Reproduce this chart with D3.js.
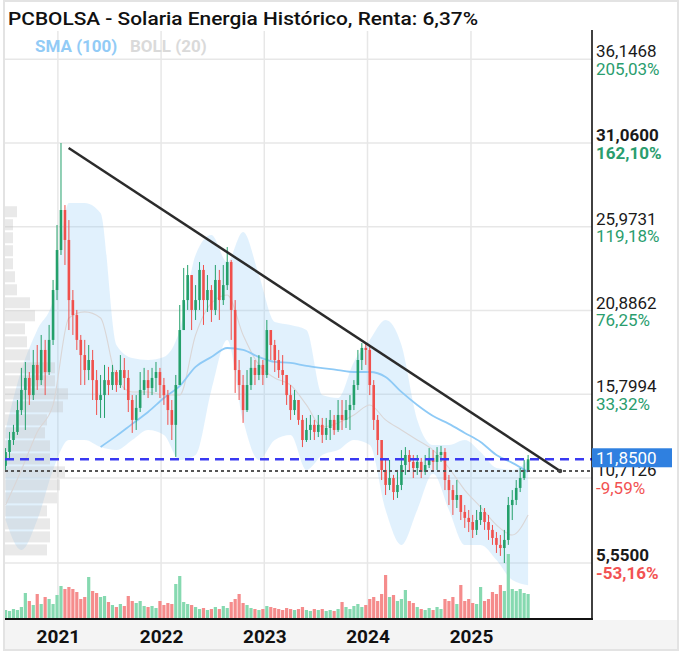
<!DOCTYPE html>
<html><head><meta charset="utf-8">
<script src="https://cdn.jsdelivr.net/npm/d3@7/dist/d3.min.js"></script>
<style>body{margin:0;background:#fff;} svg{display:block;font-family:Roboto, "Noto Sans", sans-serif;}</style>
</head><body><svg id="c" width="683" height="655"></svg>
<script>
// ---------------- DATA ----------------
const titleText = "PCBOLSA - Solaria Energia Histórico, Renta: 6,37%";
const legendItems = ["SMA (100)", "BOLL (20)"];
const candleStart = "2020-06-30";
const candleStepDays = 14;
const firstOpen = 11.45;
const closes = [12.29,13.02,13.51,14.84,16.06,16.79,15.75,17.58,16.66,18.49,
17.15,19.10,22.13,24.56,26.99,25.17,21.52,20.61,19.10,18.18,
17.27,17.88,16.66,15.45,15.75,16.66,16.36,17.15,16.36,17.27,
16.79,15.45,14.24,14.97,16.06,16.66,16.18,16.79,17.15,16.36,
15.75,14.84,13.94,16.36,19.70,21.52,23.04,20.92,21.52,23.35,
21.52,22.13,20.92,22.74,21.52,22.43,23.83,20.92,17.27,16.36,
14.84,16.36,17.40,16.97,17.58,16.97,19.70,18.79,17.88,17.27,
16.97,15.75,14.84,15.45,14.24,13.02,13.63,13.94,13.51,13.94,
13.33,13.75,14.24,13.63,14.54,14.24,14.84,15.15,16.36,17.88,
18.61,18.49,16.36,14.24,13.02,11.20,10.29,10.71,9.86,10.29,
11.50,12.11,11.69,11.32,11.69,11.08,11.50,11.93,11.69,12.11,
12.29,10.59,9.98,9.38,9.68,8.65,8.29,8.04,7.56,8.16,
8.65,8.04,7.56,7.07,6.65,6.46,6.95,9.07,9.38,10.11,
10.71,11.20,11.85];
const highs = [12.53,13.51,13.94,15.45,17.40,17.76,17.15,18.49,18.79,19.40,
19.10,20.01,22.74,26.08,31.06,27.29,26.38,22.13,20.92,19.40,
19.10,18.79,18.49,17.27,16.97,17.58,17.46,17.58,17.27,18.18,
18.00,17.27,15.75,15.75,17.15,17.40,17.27,17.40,17.76,17.40,
16.79,16.06,15.45,16.97,21.22,23.47,23.65,22.74,22.43,23.83,
23.65,23.04,22.43,23.65,23.35,23.65,24.74,23.95,21.52,17.88,
16.97,17.27,18.06,17.88,18.18,17.88,20.31,19.70,19.10,18.49,
18.18,16.97,16.36,16.06,15.45,14.54,14.36,14.54,14.24,14.54,
14.36,14.36,14.84,14.54,15.45,15.45,15.45,15.75,16.66,18.49,
18.91,18.91,18.79,16.66,14.54,13.02,11.81,11.81,10.90,11.20,
12.41,12.59,12.41,12.11,12.11,11.93,12.11,12.53,12.41,12.59,
12.66,12.53,10.90,10.29,10.59,9.68,9.07,8.77,8.47,8.77,
9.07,8.89,8.47,7.86,7.43,7.25,7.56,9.56,9.98,10.59,
11.32,11.81,12.11];
const lows = [11.20,11.93,12.72,13.33,14.54,13.63,15.15,15.45,16.06,16.36,
15.75,16.97,18.79,21.52,24.26,23.65,19.70,19.40,18.49,16.36,
16.36,16.66,15.45,14.54,14.36,14.36,15.75,16.06,15.94,16.18,
16.06,14.72,13.45,13.63,14.72,15.75,15.57,15.75,15.94,15.57,
15.15,13.94,13.02,11.99,16.36,19.70,20.92,19.70,20.31,20.92,
20.01,20.80,20.19,20.61,20.31,21.22,22.13,19.10,15.88,15.45,
14.06,14.72,16.06,16.36,16.66,16.36,16.79,17.88,17.15,16.79,
16.36,15.15,14.24,14.54,13.94,12.59,12.90,13.02,13.02,13.20,
12.84,13.02,13.02,13.33,13.51,13.63,13.75,13.63,14.84,16.06,
17.27,17.58,15.75,13.63,12.11,10.59,9.68,9.98,9.38,9.50,
9.98,10.90,11.08,10.71,10.90,10.71,10.90,11.32,11.20,11.20,
11.69,9.98,9.07,8.47,8.89,8.16,7.68,7.43,7.07,7.25,
7.86,7.56,6.95,6.65,6.16,5.98,5.55,6.65,8.16,9.07,
9.86,10.59,11.08];
const volumes = [9,8,10,9,12,26,18,14,25,15,
22,20,15,24,33,30,32,30,27,20,
22,42,28,26,22,23,17,14,12,15,
13,23,18,16,18,13,12,13,11,18,
14,16,15,35,43,17,15,14,12,10,
11,9,10,12,10,13,11,17,20,25,
16,14,11,10,9,10,13,12,11,10,
9,11,10,9,10,12,9,8,10,9,
10,8,9,8,10,17,12,10,13,15,
12,14,20,22,18,25,44,22,24,18,
20,29,18,16,12,10,9,11,9,12,
10,20,18,22,15,34,18,20,16,15,
32,18,20,27,25,34,28,65,30,28,
30,26,25];
// indicators, sampled every 4 candles
const indicatorStep = 4;
const bollUpper = [13.63,17.27,19.70,21.52,27.42,27.42,26.81,18.79,18.00,17.88,18.06,19.70,24.26,25.47,23.83,25.65,23.04,20.19,20.01,19.70,15.75,15.57,17.76,19.10,20.31,18.79,14.24,12.72,12.72,13.02,12.29,11.32,11.20,11.81];
const bollMid = [9.07,11.20,13.51,15.15,20.43,20.80,20.43,16.79,15.94,15.94,15.75,15.75,19.40,21.34,21.83,19.40,17.58,16.79,16.36,15.15,13.81,14.06,14.54,15.15,14.24,13.63,13.02,12.41,11.32,9.98,8.95,7.86,7.25,8.47];
const bollLower = [8.16,6.34,8.16,11.20,13.02,13.02,12.59,12.41,13.02,13.63,13.33,11.81,12.11,16.06,19.10,14.24,11.81,13.02,13.33,11.20,12.11,12.41,13.02,12.72,8.77,6.65,8.77,10.97,8.77,6.65,6.65,5.73,4.51,4.20];
const smaStartIndex = 24;
const sma100 = [12.60,13.27,14.00,14.72,15.57,16.30,17.46,18.06,18.61,18.49,18.06,17.76,17.70,17.52,17.39,17.27,17.15,17.15,16.85,15.94,15.15,14.48,14.00,13.45,12.90,12.11,11.63,11.08];
// volume profile (left), bins from bottom price upward
const profileLow = 5.95, profileStep = 0.79;
const profileVol = [42,45,45,42,52,55,60,45,45,40,42,58,63,50,50,25,22,20,30,25,12,10,8,8,8,8,12];
// axes
const yearTicks = ["2021-01-01","2022-01-01","2023-01-01","2024-01-01","2025-01-01"];
const priceTicks = [36.1468, 31.0600, 25.9731, 20.8862, 15.7994, 10.7126, 5.5500];
const pctLabels = ["205,03%","162,10%","119,18%","76,25%","33,32%","-9,59%","-53,16%"];
const maxPrice = 31.06, minPrice = 5.55;
const lastPrice = 11.85;
const yearOpenPrice = 11.14;
const trendLine = [["2021-02-08", 30.76], ["2025-11-12", 11.14]];

// ---------------- DRAW ----------------
const svg = d3.select("#c");
const W = 683, H = 655;
const L = 5, R = 592, T = 31, B = 619;
const parse = d3.utcParse("%Y-%m-%d");
const t0 = parse(candleStart);
const dateOf = i => d3.utcDay.offset(t0, i * candleStepDays);

const x = d3.scaleUtc().domain([parse("2020-06-28"), parse("2026-03-05")]).range([L, R]);
const y = d3.scaleLinear().domain([minPrice, maxPrice]).range([563, 143]);
const vy = d3.scaleLinear().domain([0, 70]).range([B, B - 70]);
const px = d3.scaleLinear().domain([0, 70]).range([0, 70]);

const candles = closes.map((c, i) => ({
  date: dateOf(i), open: i ? closes[i - 1] : firstOpen, close: c,
  high: highs[i], low: lows[i], vol: volumes[i]
}));
const bands = bollUpper.map((u, k) => ({date: dateOf(k * indicatorStep), u, m: bollMid[k], l: bollLower[k]}));
const smaPts = sma100.map((v, k) => ({date: dateOf(smaStartIndex + k * indicatorStep), v}));

// frame
svg.append("rect").attr("width", W).attr("height", H).attr("fill", "#fff");
svg.append("rect").attr("x", 4).attr("y", 620).attr("width", 674).attr("height", 30).attr("fill", "#f4f4f4");
svg.append("rect").attr("x", 4).attr("y", 1).attr("width", 674).attr("height", 649)
  .attr("fill", "none").attr("stroke", "#e3e3e3").attr("stroke-width", 2);

const plot = svg.append("g");
plot.append("clipPath").attr("id", "clip").append("rect")
  .attr("x", L).attr("y", T).attr("width", R - L).attr("height", B - T);

// grid
plot.append("g").selectAll("line").data(priceTicks).join("line")
  .attr("x1", L).attr("x2", R).attr("y1", d => y(d)).attr("y2", d => y(d))
  .attr("stroke", "#e7e7e7").attr("stroke-width", 1.5);
plot.append("g").selectAll("line").data(yearTicks.map(parse)).join("line")
  .attr("x1", d => x(d)).attr("x2", d => x(d)).attr("y1", T).attr("y2", B)
  .attr("stroke", "#e7e7e7").attr("stroke-width", 1.5);

const g = plot.append("g").attr("clip-path", "url(#clip)");

// bollinger band
g.append("path").datum(bands)
  .attr("d", d3.area().x(d => x(d.date)).y0(d => y(d.l)).y1(d => y(d.u)).curve(d3.curveMonotoneX))
  .attr("fill", "rgba(144,202,249,0.27)");

// volume profile
g.append("g").selectAll("rect").data(profileVol).join("rect")
  .attr("x", L)
  .attr("y", (v, k) => y(profileLow + (k + 1) * profileStep) + 1)
  .attr("height", (v, k) => y(profileLow + k * profileStep) - y(profileLow + (k + 1) * profileStep) - 2)
  .attr("width", v => px(v))
  .attr("fill", "rgba(195,195,195,0.36)");

g.append("path").datum(bands)
  .attr("d", d3.line().x(d => x(d.date)).y(d => y(d.m)).curve(d3.curveMonotoneX))
  .attr("fill", "none").attr("stroke", "#dad6d6").attr("stroke-width", 1.1);

g.append("path").datum(smaPts)
  .attr("d", d3.line().x(d => x(d.date)).y(d => y(d.v)).curve(d3.curveMonotoneX))
  .attr("fill", "none").attr("stroke", "#8ecaf6").attr("stroke-width", 1.8);

// volume bars
g.append("g").selectAll("rect").data(candles).join("rect")
  .attr("x", d => x(d.date) - 1.6).attr("width", 3.2)
  .attr("y", d => vy(d.vol)).attr("height", d => B - vy(d.vol))
  .attr("fill", d => d.close >= d.open ? "#86d9b0" : "#f58c8c");

// candles
const cg = g.append("g").selectAll("g").data(candles).join("g");
const up = d => d.close >= d.open;
cg.append("line")
  .attr("x1", d => x(d.date)).attr("x2", d => x(d.date))
  .attr("y1", d => y(Math.max(d.high, d.open, d.close)))
  .attr("y2", d => y(Math.min(d.low, d.open, d.close)))
  .attr("stroke", d => up(d) ? "#24a06b" : "#f0504c").attr("stroke-width", 1);
cg.append("rect")
  .attr("x", d => x(d.date) - 1.3).attr("width", 2.6)
  .attr("y", d => y(Math.max(d.open, d.close)))
  .attr("height", d => Math.max(1, Math.abs(y(d.open) - y(d.close))))
  .attr("fill", d => up(d) ? "#24a06b" : "#f0504c");

// reference lines
g.append("line").attr("x1", L).attr("x2", R).attr("y1", y(yearOpenPrice)).attr("y2", y(yearOpenPrice))
  .attr("stroke", "#555").attr("stroke-width", 2).attr("stroke-dasharray", "3,3");
g.append("line").attr("x1", L).attr("x2", R).attr("y1", y(lastPrice)).attr("y2", y(lastPrice))
  .attr("stroke", "#3a3af2").attr("stroke-width", 2.5).attr("stroke-dasharray", "9,6");

// trend line
const tl = trendLine.map(([d, v]) => ({date: parse(d), v}));
g.append("path").datum(tl)
  .attr("d", d3.line().x(d => x(d.date)).y(d => y(d.v)))
  .attr("stroke", "#2b2b2b").attr("stroke-width", 2.5).attr("fill", "none");
g.append("circle").attr("cx", x(tl[1].date)).attr("cy", y(tl[1].v)).attr("r", 2.2).attr("fill", "#444");

// axis lines
svg.append("line").attr("x1", R).attr("x2", R).attr("y1", 30).attr("y2", B + 1)
  .attr("stroke", "#111").attr("stroke-width", 1.6);
svg.append("line").attr("x1", L).attr("x2", R + 0.8).attr("y1", B).attr("y2", B)
  .attr("stroke", "#111").attr("stroke-width", 2);

// x axis labels
const xAxis = svg.append("g").attr("transform", `translate(0,${B})`)
  .call(d3.axisBottom(x).tickValues(yearTicks.map(parse)).tickFormat(d3.utcFormat("%Y")).tickSize(0).tickPadding(0));
xAxis.select(".domain").remove();
xAxis.selectAll("text").attr("dy", null).attr("y", 24)
  .attr("font-family", "Roboto, sans-serif").attr("font-size", 19).attr("font-weight", 700).attr("fill", "#111");

// right price labels
const fmt = v => d3.format(".4f")(v).replace(".", ",");
const lab = svg.append("g");
priceTicks.forEach((v, k) => {
  const bold = (v === maxPrice || v === minPrice);
  lab.append("text").attr("x", 596).attr("y", y(v) - 2).text(fmt(v))
    .attr("font-size", 17).attr("font-weight", bold ? 700 : 400).attr("fill", "#1a1a1a");
  lab.append("text").attr("x", 596).attr("y", y(v) + 15.5).text(pctLabels[k])
    .attr("font-size", 17).attr("font-weight", bold ? 700 : 400)
    .attr("fill", v >= lastPrice ? "#2a9d6e" : "#f25252");
});
// last price box (covers most of the 10,7126 label, as in the source)
svg.append("rect").attr("x", R).attr("y", y(lastPrice) - 11).attr("width", 80).attr("height", 19).attr("fill", "#2f80e0");
svg.append("text").attr("x", 596).attr("y", y(lastPrice) + 5).text(fmt(lastPrice))
  .attr("font-size", 17).attr("fill", "#fff");

// title & legend
svg.append("text").attr("x", 8).attr("y", 25).text(titleText)
  .attr("font-size", 19).attr("font-weight", 500).attr("fill", "#111")
  .attr("textLength", 470).attr("lengthAdjust", "spacingAndGlyphs");
svg.append("text").attr("x", 35).attr("y", 52).text(legendItems[0])
  .attr("font-size", 17).attr("font-weight", 700).attr("fill", "#92cbf6");
svg.append("text").attr("x", 130).attr("y", 52).text(legendItems[1])
  .attr("font-size", 17).attr("font-weight", 700).attr("fill", "#dadada");
</script>
</body></html>
